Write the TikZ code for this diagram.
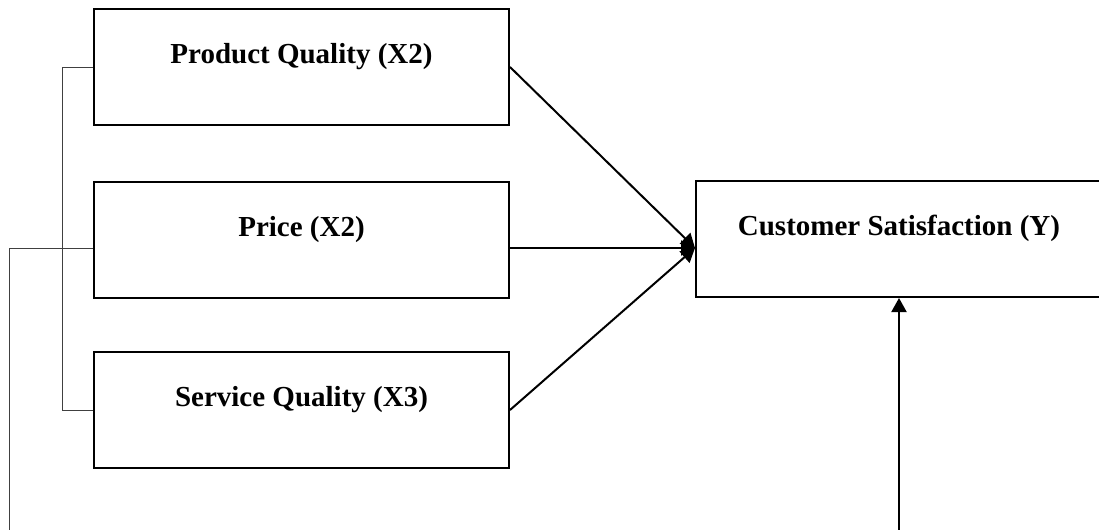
\documentclass[tikz,border=0pt]{standalone}
\usepackage{fontspec}
\setmainfont{Liberation Serif}
\usetikzlibrary{arrows.meta}

\begin{document}
\begin{tikzpicture}[
  box/.style={rectangle, draw=black, line width=1pt, minimum width=207.5pt, minimum height=58pt, inner sep=0pt},
  boxtext/.style={anchor=base, inner sep=0pt, font=\fontsize{14.5}{17}\selectfont\bfseries},
  link/.style={line width=1pt, -{Triangle[length=7pt, width=7.5pt]}},
  bracket/.style={line width=0.5pt, color=black!75}]
\useasboundingbox (0pt, 0pt) rectangle (549.5pt, -265pt);
\node (pq) [box] at (150.75pt, -33.5pt) {};
\node (pr) [box] at (150.75pt, -120pt) {};
\node (sq) [box] at (150.75pt, -205pt) {};
\node (cs) [box, minimum width=203pt] at (449.5pt, -119.5pt) {};
\node (pqtext) [boxtext] at ([yshift=1.75pt]pq.center) {Product Quality (X2)};
\node (prtext) [boxtext] at ([yshift=1.75pt]pr.center) {Price (X2)};
\node (sqtext) [boxtext] at ([yshift=1.75pt]sq.center) {Service Quality (X3)};
\node (cstext) [boxtext] at ([yshift=1.75pt]cs.center) {Customer Satisfaction (Y)};
% paths into satisfaction
\draw [link] (pq.east) to ([yshift=-4.5pt]cs.west);
\draw [link] ([yshift=-4pt]pr.east) to ([yshift=-4.5pt]cs.west);
\draw [link] (sq.east) to ([yshift=-4.5pt]cs.west);
% left bracket and loop
\draw [bracket] (pq.west) -- ++(-15.5pt, 0) |- (sq.west);
\coordinate (loopl) at (4.5pt, -265pt);
\coordinate (loopr) at (449.5pt, -265pt);
\draw [bracket] ([yshift=-4pt]pr.west) -| (loopl);
\draw [link] (loopr) to (cs.south);
\end{tikzpicture}
\end{document}
